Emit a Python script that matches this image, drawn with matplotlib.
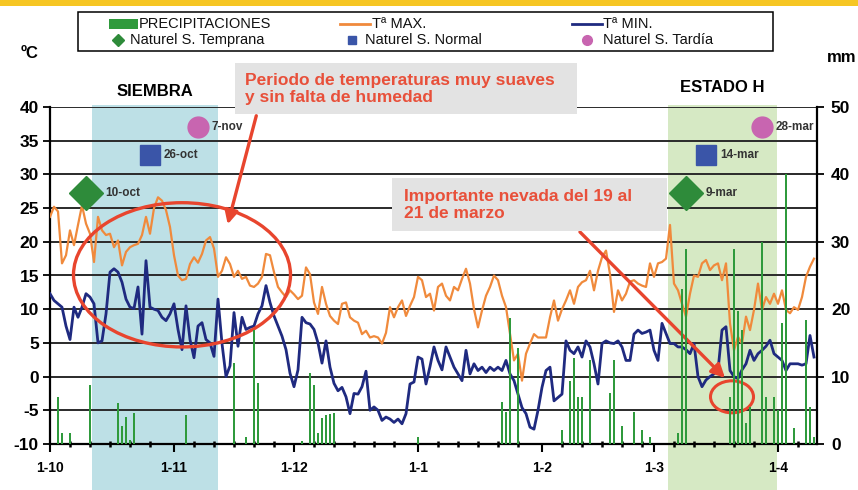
import matplotlib
matplotlib.use('Agg')
import matplotlib.pyplot as plt
from matplotlib.patches import Rectangle, Ellipse
from matplotlib.lines import Line2D
import matplotlib.transforms as mtransforms

plt.rcParams['font.family'] = ['Liberation Sans', 'DejaVu Sans']

# ---------------- data (day 0 = 1 October) ----------------
tmax = [
    23.7, 25.2, 24.5, 16.8, 18.0, 21.7, 19.5, 22.5, 25.4, 22.7,
    21.2, 17.0, 23.7, 21.7, 21.0, 21.2, 19.2, 20.2, 16.5, 18.5,
    19.2, 19.5, 19.7, 21.0, 23.7, 21.2, 25.0, 26.6, 26.1, 24.7,
    22.2, 18.0, 15.0, 14.3, 14.5, 16.7, 17.7, 16.9, 18.2, 20.2,
    20.7, 19.0, 14.8, 15.7, 17.7, 16.7, 14.8, 15.7, 14.5, 14.8,
    13.5, 13.3, 13.8, 14.8, 18.2, 18.0, 15.5, 13.3, 12.5, 11.8,
    12.8, 12.2, 11.5, 12.0, 16.2, 15.2, 11.0, 9.3, 13.3, 10.8,
    9.0, 8.3, 7.8, 10.8, 11.0, 8.8, 8.3, 8.0, 6.3, 6.8,
    5.8, 6.0, 5.8, 4.9, 6.5, 10.3, 8.8, 10.3, 11.3, 9.0,
    10.5, 11.8, 14.8, 14.3, 11.8, 12.3, 9.8, 13.3, 13.8, 12.0,
    11.3, 13.3, 12.8, 14.5, 16.0, 13.8, 10.0, 7.3, 9.8, 12.0,
    13.3, 15.0, 14.3, 12.0, 10.3, 6.3, 2.4, 3.4, -0.6, 3.4,
    4.9, 6.3, 5.8, 5.8, 5.8, 8.8, 11.3, 8.3, 10.0, 11.3,
    12.8, 10.8, 13.3, 14.0, 14.3, 15.7, 12.8, 15.7, 17.7, 18.7,
    15.2, 9.6, 12.8, 11.3, 12.3, 14.1, 14.3, 13.8, 13.5, 13.3,
    16.8, 14.8, 16.8, 17.0, 17.5, 22.5, 13.8, 12.8, 10.8, 8.9,
    12.3, 15.0, 14.8, 16.8, 17.3, 15.8, 16.5, 16.8, 14.3, 16.8,
    7.9, 3.9, 5.9, 4.9, 8.9, 6.9, 9.9, 13.8, 9.9, 11.8,
    10.8, 12.3, 10.8, 12.8, 9.9, 9.4, 10.3, 9.9, 11.8, 14.8,
    16.3, 17.5,
]
tmin = [
    12.3, 11.3, 10.8, 10.3, 7.5, 5.5, 10.3, 8.8, 10.3, 12.3,
    11.8, 10.8, 5.0, 5.3, 9.3, 15.5, 16.0, 15.5, 14.0, 11.5,
    10.3, 10.1, 13.3, 6.3, 17.2, 10.3, 10.0, 9.8, 8.8, 8.3,
    9.3, 10.8, 7.0, 4.0, 10.5, 5.5, 2.8, 7.5, 8.0, 5.5,
    5.0, 3.0, 11.5, 4.9, 0.0, 1.6, 9.5, 4.5, 8.8, 7.0,
    7.3, 7.5, 9.3, 10.5, 13.5, 11.0, 9.0, 7.5, 6.0, 4.0,
    0.5, -1.5, 1.0, 8.8, 8.0, 7.8, 7.0, 5.0, 2.0, 5.3,
    1.4, -1.0, -2.1, -1.6, -3.0, -5.5, -2.5, -2.6, -1.5, 0.8,
    -5.0, -4.5, -5.0, -6.5, -6.0, -6.3, -6.8, -6.3, -7.0, -5.5,
    -1.1, -0.8, 2.9, 2.6, -1.1, 1.5, 4.4, 2.4, 1.0, 4.4,
    2.9, 1.4, 0.4, -0.6, 3.9, 0.4, 1.9, 0.9, 1.4, 0.6,
    1.4, 0.9, 1.4, 0.9, 2.4, 0.4, -0.6, -2.6, -4.6, -5.5,
    -7.5, -7.8, -5.0, -1.6, 0.9, 1.4, -3.6, -3.1, -2.6, 5.3,
    3.9, 3.4, 4.4, 2.9, 5.3, 4.4, 1.9, -1.1, 4.9, 5.3,
    5.0, 4.9, 5.3, 4.4, 2.4, 2.4, 6.3, 6.9, 6.4, 6.6,
    6.9, 3.9, 2.4, 7.9, 6.4, 4.9, 4.9, 4.4, 4.4, 4.0,
    3.4, 4.9, 0.0, -1.5, -0.5, 0.0, 0.4, 0.9, 6.9, 7.4,
    0.9, 0.0, -0.3, 1.0, 1.9, 3.9, 2.4, 3.4, 3.9, 4.5,
    5.4, 3.4, 2.9, 2.4, 0.9, 1.9, 1.9, 1.9, 1.7, 1.9,
    6.1, 2.9,
]
days = list(range(len(tmax)))

precip_day = [2, 3, 5, 10, 17, 18, 19, 20, 21, 34, 46, 49, 51, 52,
              63, 65, 66, 67, 68, 69, 70, 71, 92, 113, 114, 115, 117,
              128, 130, 131, 132, 133, 135, 140, 141, 143, 146, 148, 150,
              157, 158, 159, 170, 171, 172, 173, 174, 175,
              178, 179, 181, 182, 183, 184, 186, 189, 190, 191]
precip_mm = [7.0, 1.6, 1.6, 8.7, 6.1, 2.6, 4.0, 0.6, 4.6, 4.3, 12.0, 1.1, 16.9, 9.0,
             0.4, 10.5, 8.7, 1.6, 3.8, 4.3, 4.4, 4.6, 1.1, 6.3, 4.8, 18.7, 14.2,
             2.1, 9.3, 12.7, 7.0, 7.0, 12.5, 7.5, 12.5, 2.6, 4.8, 2.1, 1.0,
             1.6, 23.0, 29.0, 7.0, 29.0, 19.7, 16.9, 3.1, 5.5,
             29.9, 7.0, 7.0, 5.0, 17.9, 40.0, 2.3, 18.4, 5.5, 1.0]

month_start = [0, 31, 61, 92, 123, 151, 182]
month_len = [31, 30, 31, 31, 28, 31, 10]
month_labels = ["1-10", "1-11", "1-12", "1-1", "1-2", "1-3", "1-4"]

temp_ticks = [-10, -5, 0, 5, 10, 15, 20, 25, 30, 35, 40]
mm_ticks = [0, 10, 20, 30, 40, 50]

sow_early_day, sow_early_lbl = [9, 159], ["10-oct", "9-mar"]
sow_norm_day, sow_norm_lbl = [25, 164], ["26-oct", "14-mar"]
sow_late_day, sow_late_lbl = [37, 178], ["7-nov", "28-mar"]
sow_early_y, sow_norm_y, sow_late_y = 27.2, 32.9, 37.0

siembra_span = (10.5, 42.0)
estado_span = (154.5, 181.75)

legend_labels = ["PRECIPITACIONES", "Tª MAX.", "Tª MIN.",
                 "Naturel S. Temprana", "Naturel S. Normal", "Naturel S. Tardía"]

# ---------------- styles ----------------
C_MAX = '#f08a3c'
C_MIN = '#1f2a80'
C_PRE = '#2f9a3c'
C_DIA = '#2e8b3a'
C_SQ = '#3a55a8'
C_CIR = '#c865b0'
C_RED = '#e8452e'
C_TXT = '#e8503a'

W, H = 858, 490
def fx(x): return x / W
def fy(y): return 1 - y / H

fig = plt.figure(figsize=(W / 100, H / 100), dpi=100)
fig.patch.set_facecolor('white')

# yellow strip at the top
fig.add_artist(Rectangle((0, fy(6)), 1, 6 / H, transform=fig.transFigure,
                         facecolor='#f6c623', edgecolor='none', zorder=-2))

ax = fig.add_axes([fx(50), fy(444), (817 - 50) / W, (444 - 107) / H])
ax.patch.set_visible(False)

# shaded periods (extend below the axis to the figure bottom)
bt = mtransforms.blended_transform_factory(ax.transData, fig.transFigure)
for (a, b), col in [(siembra_span, '#bde0e6'), (estado_span, '#d6e9c4')]:
    fig.add_artist(Rectangle((a, 0), b - a, fy(105), transform=bt,
                             facecolor=col, edgecolor='none', zorder=-1))

ax.plot(days, tmax, color=C_MAX, lw=1.6, zorder=3)
ax.plot(days, tmin, color=C_MIN, lw=2.0, zorder=3)

ax.set_xlim(0, 191.75)
ax.set_ylim(-10, 40)
ax.set_yticks(temp_ticks)
ax.set_yticklabels([str(t) for t in temp_ticks], fontweight='bold', fontsize=12.5)
ax.yaxis.grid(True, color='#2a2a2a', lw=1.4)
ax.set_xticks(month_start)
ax.set_xticklabels(month_labels, fontweight='bold', fontsize=10)
minor = [s + k for s, n in zip(month_start, month_len) for k in (5, 10, 15, 20, 25) if k < n]
ax.set_xticks(minor, minor=True)
ax.tick_params(axis='x', which='major', direction='out', length=6, width=1.5, pad=6)
ax.tick_params(axis='x', which='minor', direction='inout', length=5, width=1.8)
ax.tick_params(axis='y', direction='out', length=5, width=1.3, pad=3)
for s in ['top', 'right']:
    ax.spines[s].set_visible(False)
for s in ['left', 'bottom']:
    ax.spines[s].set_linewidth(1.6)
    ax.spines[s].set_color('black')

ax2 = ax.twinx()
ax2.bar(precip_day, precip_mm, width=0.5, color=C_PRE, zorder=2)
ax2.set_ylim(0, 50)
ax2.set_yticks(mm_ticks)
ax2.set_yticklabels([str(t) for t in mm_ticks], fontweight='bold', fontsize=12.5)
ax2.tick_params(axis='y', direction='out', length=5, width=1.3, pad=5)
for s in ['top', 'left', 'bottom']:
    ax2.spines[s].set_visible(False)
ax2.spines['right'].set_linewidth(1.6)

# sowing markers
ax.plot(sow_early_day, [sow_early_y] * 2, ls='none', marker='D', ms=17, color=C_DIA, zorder=6, clip_on=False)
ax.plot(sow_norm_day, [sow_norm_y] * 2, ls='none', marker='s', ms=15, color=C_SQ, zorder=6, clip_on=False)
ax.plot(sow_late_day, [sow_late_y] * 2, ls='none', marker='o', ms=15, color=C_CIR, zorder=6, clip_on=False)
for dd, ll in zip(sow_early_day, sow_early_lbl):
    ax.annotate(ll, (dd, sow_early_y), xytext=(14, 0), textcoords='offset points',
                va='center', fontsize=8.5, fontweight='bold', color='#333333', zorder=7)
for dd, ll in zip(sow_norm_day, sow_norm_lbl):
    ax.annotate(ll, (dd, sow_norm_y), xytext=(10, 0), textcoords='offset points',
                va='center', fontsize=8.5, fontweight='bold', color='#333333', zorder=7)
for dd, ll in zip(sow_late_day, sow_late_lbl):
    ax.annotate(ll, (dd, sow_late_y), xytext=(10, 0), textcoords='offset points',
                va='center', fontsize=8.5, fontweight='bold', color='#333333', zorder=7,
                annotation_clip=False)

# ellipses and arrows
ax.add_patch(Ellipse((33, 15.1), 54.25, 21.4, fill=False, ec=C_RED, lw=2.4, zorder=8, clip_on=False))
ax.add_patch(Ellipse((170.5, -3.0), 10.75, 4.75, fill=False, ec=C_RED, lw=2.2, zorder=8, clip_on=False))
ax.annotate('', xy=(44.25, 22.2), xytext=(51.75, 39.1),
            arrowprops=dict(arrowstyle='-|>', color=C_RED, lw=2.4, mutation_scale=20),
            annotation_clip=False, zorder=8)
ax.annotate('', xy=(169.25, -0.5), xytext=(132, 21.75),
            arrowprops=dict(arrowstyle='-|>', color=C_RED, lw=2.4, mutation_scale=20),
            annotation_clip=False, zorder=8)

# annotation boxes
fig.add_artist(Rectangle((fx(235), fy(114)), (577 - 235) / W, (114 - 63) / H,
                         transform=fig.transFigure, facecolor='#e3e3e3', edgecolor='none', zorder=1))
fig.text(fx(245), fy(89), "Periodo de temperaturas muy suaves\ny sin falta de humedad",
         color=C_TXT, fontsize=12.5, fontweight='bold', va='center', ha='left',
         linespacing=1.15, zorder=2)
fig.add_artist(Rectangle((fx(392), fy(231)), (667 - 392) / W, (231 - 178) / H,
                         transform=fig.transFigure, facecolor='#e3e3e3', edgecolor='none', zorder=1))
fig.text(fx(404), fy(205), "Importante nevada del 19 al\n21 de marzo",
         color=C_TXT, fontsize=12.5, fontweight='bold', va='center', ha='left',
         linespacing=1.15, zorder=2)

fig.text(fx(155), fy(92), "SIEMBRA", fontsize=12, fontweight='bold', ha='center', va='center')
fig.text(fx(722), fy(88), "ESTADO H", fontsize=12, fontweight='bold', ha='center', va='center')
fig.text(fx(30), fy(53), "ºC", fontsize=12, fontweight='bold', ha='center', va='center')
fig.text(fx(842), fy(57), "mm", fontsize=12, fontweight='bold', ha='center', va='center')

# legend (drawn as a framed key)
ft = fig.transFigure
fig.add_artist(Rectangle((fx(78), fy(51)), (773 - 78) / W, (51 - 12) / H, transform=ft,
                         facecolor='white', edgecolor='black', lw=1.1, zorder=3))
r1, r2 = 24, 40
fig.add_artist(Rectangle((fx(109), fy(29)), 29 / W, 10 / H, transform=ft,
                         facecolor=C_PRE, edgecolor='none', zorder=4))
fig.add_artist(Line2D([fx(340), fx(370)], [fy(r1), fy(r1)], transform=ft, color=C_MAX, lw=2, zorder=4))
fig.add_artist(Line2D([fx(572), fx(602)], [fy(r1), fy(r1)], transform=ft, color=C_MIN, lw=2, zorder=4))
fig.add_artist(Line2D([fx(118)], [fy(r2)], transform=ft, ls='none', marker='D', ms=6, color=C_DIA, zorder=4))
fig.add_artist(Line2D([fx(352)], [fy(r2)], transform=ft, ls='none', marker='s', ms=6, color=C_SQ, zorder=4))
fig.add_artist(Line2D([fx(587)], [fy(r2)], transform=ft, ls='none', marker='o', ms=7, color=C_CIR, zorder=4))
for (x, y), lab in zip([(139, r1), (372, r1), (603, r1), (130, r2), (365, r2), (603, r2)], legend_labels):
    fig.text(fx(x), fy(y), lab, fontsize=10.5, ha='left', va='center', color='#111111', zorder=5)

fig.savefig('out.png', dpi=100)
